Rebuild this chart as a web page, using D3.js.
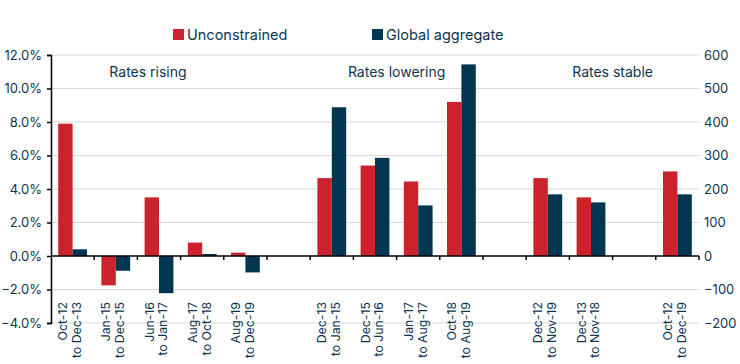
<!DOCTYPE html>
<html>
<head>
<meta charset="utf-8">
<script src="https://cdn.jsdelivr.net/npm/d3@7"></script>
<style>
  body { margin: 0; background: #fff; }
  svg { display: block; }
  svg text { font-family: Inter, Lato, "Open Sans", sans-serif; }
  .grid line { stroke: #d9d9d9; stroke-width: 1.2; }
  .tick-label { fill: #0d3550; font-size: 13px; }
  .regime { font-size: 14px; }
  .cat-label { fill: #0d3550; font-size: 12.3px; }
</style>
</head>
<body>
<div id="chart"></div>
<script>
// categories (null = spacer slot between the three regimes)
const categories = [
  ['Oct-12', 'to Dec-13'], ['Jan-15', 'to Dec-15'], ['Jun-16', 'to Jan-17'], ['Aug-17', 'to Oct-18'], ['Aug-19', 'to Dec-19'],
  null,
  ['Dec-13', 'to Jan-15'], ['Dec-15', 'to Jun-16'], ['Jan-17', 'to Aug-17'], ['Oct-18', 'to Aug-19'],
  null,
  ['Dec-12', 'to Nov-19'], ['Dec-13', 'to Nov-18'],
  null,
  ['Oct-12', 'to Dec-19']
];
// Unconstrained, % (left axis)
const unconstrained = [7.9, -1.75, 3.5, 0.8, 0.2, null, 4.65, 5.4, 4.45, 9.2, null, 4.65, 3.5, null, 5.05];
// Global aggregate, right axis
const globalAgg = [20, -44, -111, 6, -49, null, 444, 293, 151, 572, null, 184, 160, null, 184];

const leftTicks = [-4, -2, 0, 2, 4, 6, 8, 10, 12];
const rightTicks = [-200, -100, 0, 100, 200, 300, 400, 500, 600];

const regimes = [
  {label: 'Rates rising', from: 0, to: 4},
  {label: 'Rates lowering', from: 6, to: 9},
  {label: 'Rates stable', from: 11, to: 14}
];
const series = [
  {name: 'Unconstrained', key: 'u', color: '#cc222b', values: unconstrained},
  {name: 'Global aggregate', key: 'g', color: '#00364f', values: globalAgg}
];

const width = 740, height = 364;
const margin = {left: 51, right: 41, top: 55, bottom: 41};

const svg = d3.select('#chart').append('svg').attr('width', width).attr('height', height);

const x = d3.scaleBand().domain(d3.range(categories.length)).range([margin.left, width - margin.right]);
const xs = d3.scaleBand().domain(['u', 'g']).range([x.bandwidth() / 6, x.bandwidth() * 5 / 6]);
const yL = d3.scaleLinear().domain([-4, 12]).range([height - margin.bottom, margin.top]);
const yR = d3.scaleLinear().domain([-200, 600]).range([height - margin.bottom, margin.top]);

// grid
svg.append('g').attr('class', 'grid')
  .selectAll('line').data(leftTicks.filter(d => d !== 0)).enter().append('line')
  .attr('x1', margin.left).attr('x2', width - margin.right)
  .attr('y1', d => yL(d)).attr('y2', d => yL(d));

// bars
series.forEach(s => {
  const y = s.key === 'u' ? yL : yR;
  svg.append('g').selectAll('rect')
    .data(s.values.map((v, i) => ({v, i})).filter(d => d.v !== null))
    .enter().append('rect')
    .attr('x', d => x(d.i) + xs(s.key))
    .attr('width', xs.bandwidth())
    .attr('y', d => Math.min(y(d.v), y(0)))
    .attr('height', d => Math.abs(y(d.v) - y(0)))
    .attr('fill', s.color);
});

// left axis
const gl = svg.append('g').attr('transform', `translate(${margin.left},0)`)
  .call(d3.axisLeft(yL).tickValues(leftTicks).tickSize(4).tickPadding(5).tickFormat(d => d3.format('.1f')(d) + '%'));
gl.attr('font-family', null).attr('font-size', null);
gl.select('.domain').attr('stroke', '#000').attr('stroke-width', 1.5);
gl.selectAll('.tick line').attr('stroke', '#000').attr('stroke-width', 1.5);
gl.selectAll('text').attr('class', 'tick-label');

// right axis
const gr = svg.append('g').attr('transform', `translate(${width - margin.right},0)`)
  .call(d3.axisRight(yR).tickValues(rightTicks).tickSize(0).tickPadding(5));
gr.attr('font-family', null).attr('font-size', null);
gr.select('.domain').remove();
gr.selectAll('text').attr('class', 'tick-label');

// zero axis with boundary ticks
const boundaries = d3.range(1, categories.length + 1).map(i => i < categories.length ? x(i) : x.range()[1]);
const gz = svg.append('g');
gz.append('line')
  .attr('x1', margin.left).attr('x2', width - margin.right)
  .attr('y1', yL(0)).attr('y2', yL(0))
  .attr('stroke', '#000').attr('stroke-width', 1.5);
gz.selectAll('line.bt').data(boundaries).enter().append('line').attr('class', 'bt')
  .attr('x1', d => d).attr('x2', d => d)
  .attr('y1', yL(0)).attr('y2', yL(0) + 4)
  .attr('stroke', '#000').attr('stroke-width', 1.5);

// category labels
const labelTop = 302;
categories.forEach((c, i) => {
  if (!c) return;
  const cx = x(i) + x.bandwidth() / 2;
  const t = svg.append('text').attr('class', 'cat-label')
    .attr('transform', `translate(${cx - 3},${labelTop}) rotate(-90)`)
    .attr('text-anchor', 'end');
  t.append('tspan').attr('x', 0).attr('dy', '-0.2em').text(c[0]);
  t.append('tspan').attr('x', 0).attr('dy', '1.12em').text(c[1]);
});

// regime titles (the first one sits a bit left of its group centre)
svg.selectAll('text.regime').data(regimes).enter().append('text').attr('class', 'tick-label regime')
  .attr('x', d => (x(d.from) + x(d.to) + x.bandwidth()) / 2 - (d.from === 0 ? 11 : 0))
  .attr('y', 77)
  .attr('text-anchor', 'middle')
  .text(d => d.label);

// legend
const legendX = [173, 372];
const lg = svg.append('g').selectAll('g').data(series).enter().append('g')
  .attr('transform', (d, i) => `translate(${legendX[i]},29)`);
lg.append('rect').attr('width', 11).attr('height', 11).attr('fill', d => d.color);
lg.append('text').attr('class', 'tick-label').attr('x', 14).attr('y', 10.5).style('font-size', '14.5px').text(d => d.name);
</script>
</body>
</html>
